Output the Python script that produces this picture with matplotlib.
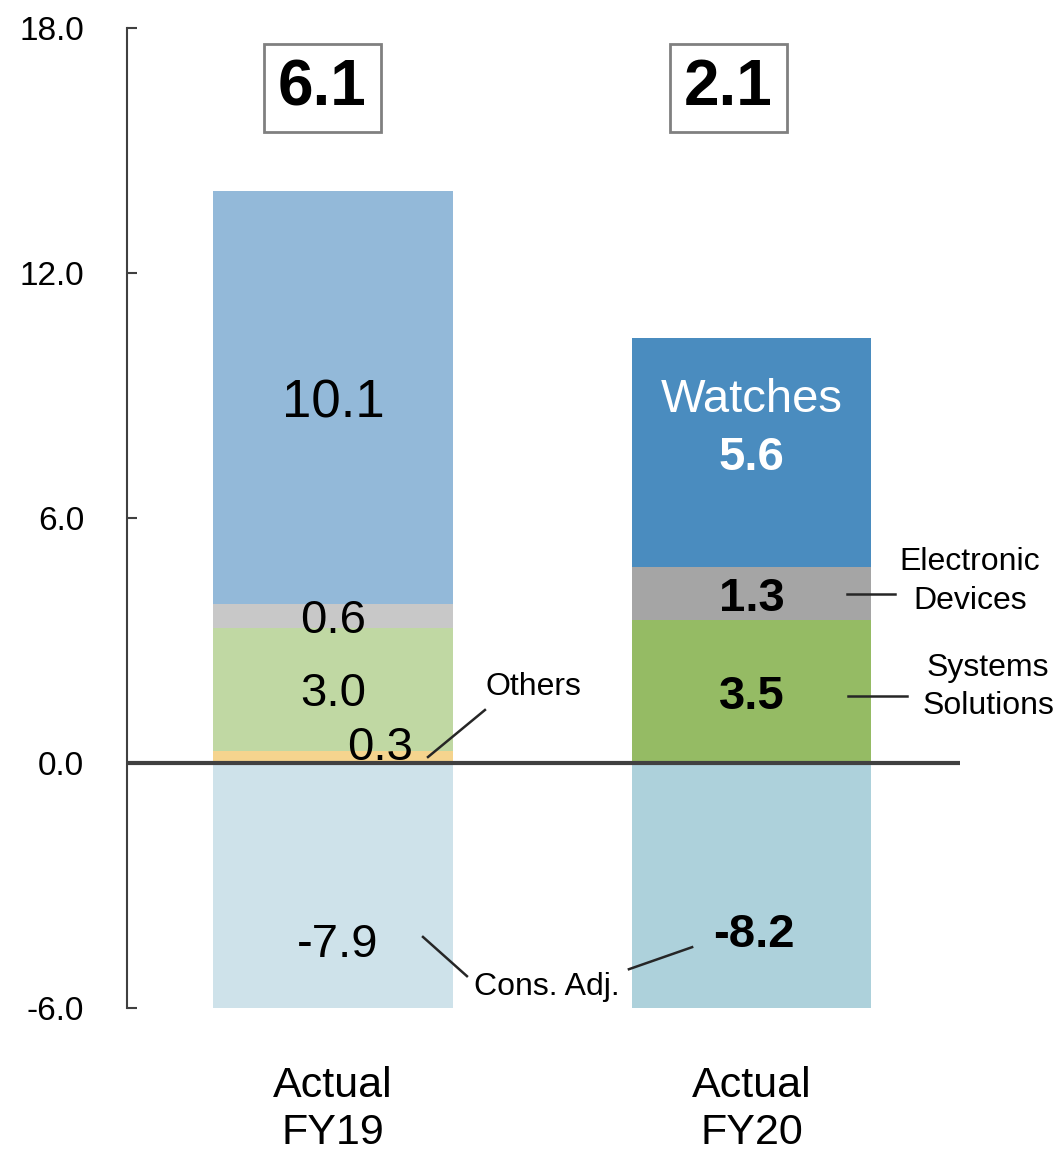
import matplotlib
matplotlib.use("Agg")
import matplotlib.pyplot as plt
import numpy as np

plt.rcParams['font.family'] = ['Liberation Sans', 'DejaVu Sans']

# segment values per period (billion yen)
periods = ['Actual\nFY19', 'Actual\nFY20']
others = [0.3, 0.0]
systems = [3.0, 3.5]
electronic = [0.6, 1.3]
watches = [10.1, 5.6]
cons_adj = [-7.9, -8.2]
totals = [6.1, 2.1]

# each period has its own shade set
col_others = ['#F5D48E', '#F5D48E']
col_systems = ['#C0D8A3', '#95BB64']
col_electronic = ['#C8C8C8', '#A5A5A5']
col_watches = ['#93B9D9', '#4A8CBF']
col_cons = ['#CEE2EA', '#ADD1DB']

x = np.arange(len(periods))
w = 0.573

fig = plt.figure(figsize=(10.59, 11.52), dpi=100)
ax = fig.add_axes([0.12, 0.125, 0.7865, 0.8507])

b0 = np.array(others)
b1 = b0 + np.array(systems)
b2 = b1 + np.array(electronic)

ax.bar(x, others, w, color=col_others, zorder=2)
ax.bar(x, systems, w, bottom=b0, color=col_systems, zorder=2)
ax.bar(x, electronic, w, bottom=b1, color=col_electronic, zorder=2)
ax.bar(x, watches, w, bottom=b2, color=col_watches, zorder=2)
ax.bar(x, cons_adj, w, color=col_cons, zorder=2)

ax.axhline(0, color='#404040', lw=3, zorder=3)

ax.set_xlim(-0.492, 1.498)
ax.set_ylim(-6, 18)
ax.set_yticks([-6, 0, 6, 12, 18])
ax.set_yticklabels(['%.1f' % v for v in [-6, 0, 6, 12, 18]])
ax.tick_params(axis='y', direction='in', length=7, width=1.5, color='#404040',
               labelsize=24, pad=31)
ax.set_xticks(x)
ax.set_xticklabels(periods, fontsize=31, linespacing=1.2)
ax.tick_params(axis='x', length=0, pad=42)
for s in ['top', 'right', 'bottom']:
    ax.spines[s].set_visible(False)
ax.spines['left'].set_color('#404040')
ax.spines['left'].set_linewidth(1.5)

lab = dict(ha='center', va='center_baseline', zorder=4)

# FY19 labels (regular weight)
ax.text(0, b2[0] + watches[0] / 2, '%.1f' % watches[0], fontsize=38, **lab)
ax.text(0, b1[0] + electronic[0] / 2, '%.1f' % electronic[0], fontsize=34, **lab)
ax.text(0, b0[0] + systems[0] / 2, '%.1f' % systems[0], fontsize=34, **lab)
ax.text(0.112, 0.49, '%.1f' % others[0], fontsize=34, **lab)
ax.text(0.01, -4.33, '%.1f' % cons_adj[0], fontsize=34, **lab)

# FY20 labels (bold)
ax.text(1, b2[1] + watches[1] / 2 + 1.42, 'Watches', fontsize=34, color='white', **lab)
ax.text(1, b2[1] + watches[1] / 2, '%.1f' % watches[1], fontsize=34,
        color='white', fontweight='bold', **lab)
ax.text(1, b1[1] + electronic[1] / 2, '%.1f' % electronic[1], fontsize=34,
        fontweight='bold', **lab)
ax.text(1, b0[1] + systems[1] / 2, '%.1f' % systems[1], fontsize=34,
        fontweight='bold', **lab)
ax.text(1.005, -4.1, '%.1f' % cons_adj[1], fontsize=34, fontweight='bold', **lab)

# totals in boxes above the bars
for xi, t in zip([-0.026, 0.944], totals):
    ax.text(xi, 16.53, '%.1f' % t, ha='center', va='center', fontsize=46, fontweight='bold',
            bbox=dict(boxstyle='square,pad=0.22', fc='white', ec='#808080', lw=2))

# segment names with leader lines
lc = '#262626'
ax.plot([0.227, 0.363], [0.147, 1.298], color=lc, lw=1.8, zorder=4)
ax.text(0.480, 1.86, 'Others', ha='center', va='center', fontsize=23)
ax.plot([1.228, 1.343], [4.14, 4.14], color=lc, lw=1.8, clip_on=False)
ax.text(1.522, 4.45, 'Electronic\nDevices', ha='center', va='center', fontsize=23,
        linespacing=1.38)
ax.plot([1.231, 1.372], [1.64, 1.64], color=lc, lw=1.8, clip_on=False)
ax.text(1.565, 1.86, 'Systems\nSolutions', ha='center', va='center', fontsize=23,
        linespacing=1.38, clip_on=False)
ax.plot([0.215, 0.320], [-4.26, -5.22], color=lc, lw=1.8, zorder=4)
ax.plot([0.707, 0.858], [-5.05, -4.51], color=lc, lw=1.8, zorder=4)
ax.text(0.511, -5.49, 'Cons. Adj.', ha='center', va='center', fontsize=23, zorder=4)

fig.savefig('out.png', dpi=100)
